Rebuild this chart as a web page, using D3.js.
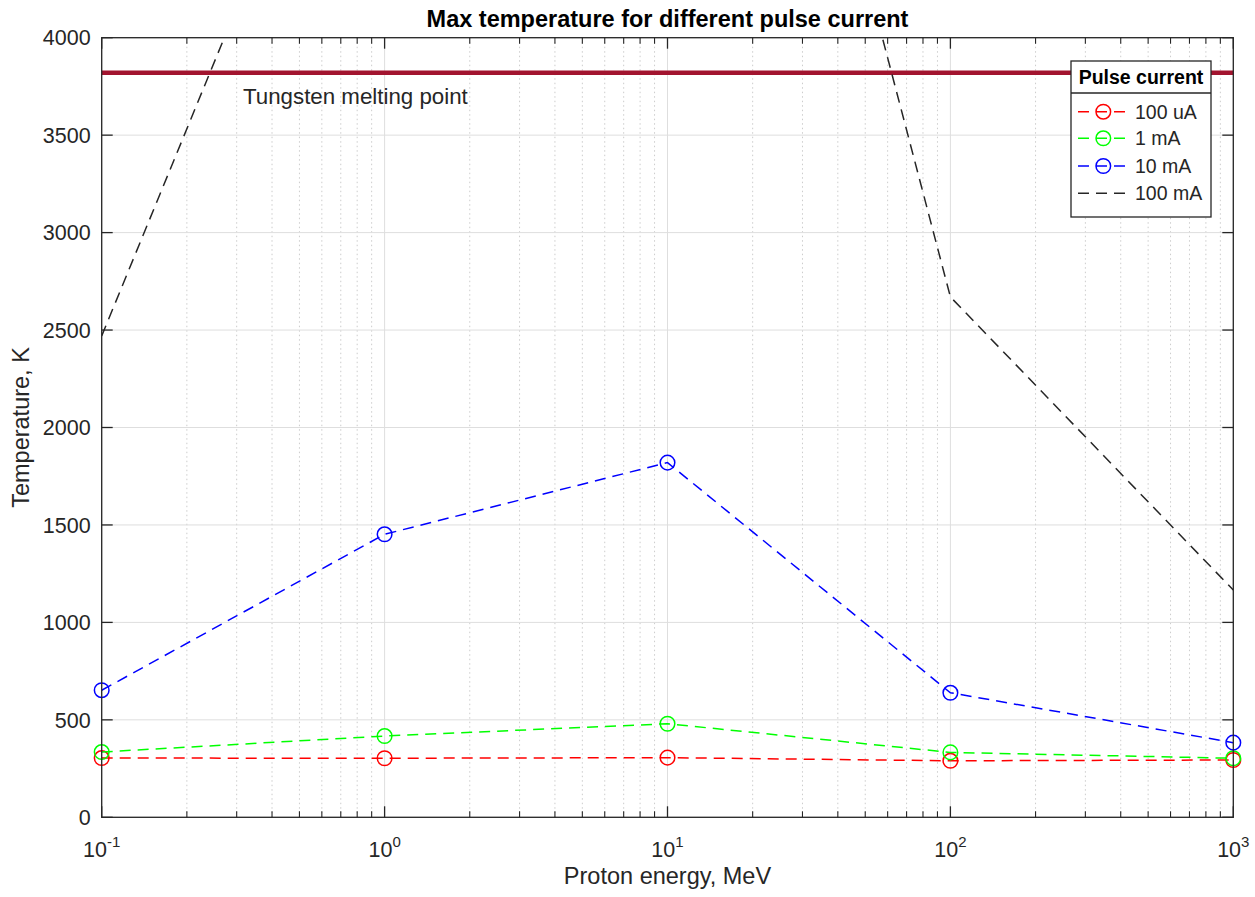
<!DOCTYPE html>
<html>
<head>
<meta charset="utf-8">
<script src="https://cdn.jsdelivr.net/npm/d3@7"></script>
<style>
  html, body { margin: 0; padding: 0; background: #fff; }
  svg { display: block; font-family: "Liberation Sans", Arial, Helvetica, sans-serif; }
</style>
</head>
<body>
<svg id="chart" width="1255" height="897"></svg>
<script>
// Proton energies (MeV)
const energies = [0.1, 1, 10, 100, 1000];

// Max temperature (K) for each pulse current
const temp100uA = [304, 303, 306, 290, 294];
const temp1mA   = [335, 417, 480, 333, 303];
const temp10mA  = [652, 1452, 1820, 639, 383];
const temp100mA = [2470, 6000, 8200, 2670, 1166];

const seriesNames  = ["100 uA", "1 mA", "10 mA", "100 mA"];
const seriesColors = ["#ff0000", "#00ff00", "#0000ff", "#262626"];
const seriesMarked = [true, true, true, false];

const meltingPoint = 3820;
const meltingLabel = "Tungsten melting point";

const xTickExps = [-1, 0, 1, 2, 3];
const yTicks = [0, 500, 1000, 1500, 2000, 2500, 3000, 3500, 4000];

const series = [temp100uA, temp1mA, temp10mA, temp100mA];

const W = 1255, H = 897;
const L = 101.7, R = 1233.3, T = 37.7, B = 817.3;
const axisColor = "#262626";

const svg = d3.select("#chart");

const x = d3.scaleLog().domain([0.1, 1000]).range([L, R]);
const y = d3.scaleLinear().domain([0, 4000]).range([B, T]);

// Minor log positions (2..9 within each decade)
const minorX = [];
for (let e = -1; e < 3; e++) {
  for (let k = 2; k <= 9; k++) minorX.push(k * Math.pow(10, e));
}
const majorX = xTickExps.map(e => Math.pow(10, e));

// Grid
const grid = svg.append("g");
grid.selectAll("line.minor").data(minorX).join("line")
  .attr("x1", d => x(d)).attr("x2", d => x(d))
  .attr("y1", T).attr("y2", B)
  .attr("stroke", "#cccccc").attr("stroke-width", 1)
  .attr("stroke-dasharray", "1.5,3");
grid.selectAll("line.mx").data(majorX).join("line")
  .attr("x1", d => x(d)).attr("x2", d => x(d))
  .attr("y1", T).attr("y2", B)
  .attr("stroke", "#dedede").attr("stroke-width", 1);
grid.selectAll("line.my").data(yTicks).join("line")
  .attr("x1", L).attr("x2", R)
  .attr("y1", d => y(d)).attr("y2", d => y(d))
  .attr("stroke", "#dedede").attr("stroke-width", 1);

// Clip region for lines that leave the axes
svg.append("clipPath").attr("id", "plotClip")
  .append("rect").attr("x", L).attr("y", T).attr("width", R - L).attr("height", B - T);

// Melting point line
svg.append("line")
  .attr("x1", L).attr("x2", R)
  .attr("y1", y(meltingPoint)).attr("y2", y(meltingPoint))
  .attr("stroke", "#A2142F").attr("stroke-width", 4.5);

svg.append("text")
  .attr("x", 243).attr("y", y(meltingPoint) + 31)
  .attr("font-size", 22.3).attr("fill", axisColor)
  .text(meltingLabel);

// Series
const line = d3.line().x((d, i) => x(energies[i])).y(d => y(d));
const dash = "11,7";

series.forEach((vals, si) => {
  svg.append("path")
    .attr("d", line(vals))
    .attr("fill", "none")
    .attr("stroke", seriesColors[si])
    .attr("stroke-width", 1.5)
    .attr("stroke-dasharray", dash)
    .attr("clip-path", "url(#plotClip)");
  if (seriesMarked[si]) {
    svg.append("g").selectAll("circle").data(vals).join("circle")
      .attr("cx", (d, i) => x(energies[i]))
      .attr("cy", d => y(d))
      .attr("r", 7.3)
      .attr("fill", "none")
      .attr("stroke", seriesColors[si])
      .attr("stroke-width", 1.5);
  }
});

// Axes box and ticks
const axes = svg.append("g");
axes.append("rect").attr("x", L).attr("y", T).attr("width", R - L).attr("height", B - T)
  .attr("fill", "none").attr("stroke", axisColor).attr("stroke-width", 1.3);

const majorLen = 11, minorLen = 6;
majorX.forEach(v => {
  axes.append("line").attr("x1", x(v)).attr("x2", x(v)).attr("y1", B).attr("y2", B - majorLen)
    .attr("stroke", axisColor).attr("stroke-width", 1.3);
  axes.append("line").attr("x1", x(v)).attr("x2", x(v)).attr("y1", T).attr("y2", T + majorLen)
    .attr("stroke", axisColor).attr("stroke-width", 1.3);
});
minorX.forEach(v => {
  axes.append("line").attr("x1", x(v)).attr("x2", x(v)).attr("y1", B).attr("y2", B - minorLen)
    .attr("stroke", axisColor).attr("stroke-width", 1.1);
  axes.append("line").attr("x1", x(v)).attr("x2", x(v)).attr("y1", T).attr("y2", T + minorLen)
    .attr("stroke", axisColor).attr("stroke-width", 1.1);
});
yTicks.forEach(v => {
  axes.append("line").attr("x1", L).attr("x2", L + majorLen).attr("y1", y(v)).attr("y2", y(v))
    .attr("stroke", axisColor).attr("stroke-width", 1.3);
  axes.append("line").attr("x1", R).attr("x2", R - majorLen).attr("y1", y(v)).attr("y2", y(v))
    .attr("stroke", axisColor).attr("stroke-width", 1.3);
});

// Tick labels
const tickFont = 21.5;
svg.append("g").selectAll("text").data(yTicks).join("text")
  .attr("x", L - 11).attr("y", d => y(d))
  .attr("dy", "0.36em")
  .attr("text-anchor", "end")
  .attr("font-size", tickFont).attr("fill", axisColor)
  .text(d => d);

const xl = svg.append("g").selectAll("text").data(xTickExps).join("text")
  .attr("x", d => x(Math.pow(10, d)))
  .attr("y", 857)
  .attr("text-anchor", "middle")
  .attr("font-size", tickFont).attr("fill", axisColor);
xl.append("tspan").text("10");
xl.append("tspan").attr("dy", -10).attr("font-size", 15).text(d => d);

// Axis labels and title
svg.append("text")
  .attr("x", (L + R) / 2).attr("y", 884)
  .attr("text-anchor", "middle").attr("font-size", 23.5).attr("fill", axisColor)
  .text("Proton energy, MeV");

svg.append("text")
  .attr("transform", `translate(29,${(T + B) / 2}) rotate(-90)`)
  .attr("text-anchor", "middle").attr("font-size", 23.5).attr("fill", axisColor)
  .text("Temperature, K");

svg.append("text")
  .attr("x", (L + R) / 2).attr("y", 27)
  .attr("text-anchor", "middle").attr("font-size", 23.5).attr("font-weight", "bold")
  .attr("fill", "#000")
  .text("Max temperature for different pulse current");

// Legend
const lg = svg.append("g");
const lgX0 = 1071, lgX1 = 1211, lgY0 = 61, lgY1 = 217, lgSep = 93;
lg.append("rect").attr("x", lgX0).attr("y", lgY0).attr("width", lgX1 - lgX0).attr("height", lgY1 - lgY0)
  .attr("fill", "#fff").attr("stroke", axisColor).attr("stroke-width", 1.3);
lg.append("line").attr("x1", lgX0).attr("x2", lgX1).attr("y1", lgSep).attr("y2", lgSep)
  .attr("stroke", axisColor).attr("stroke-width", 1.3);
lg.append("text").attr("x", (lgX0 + lgX1) / 2).attr("y", 84)
  .attr("text-anchor", "middle").attr("font-size", 19.5).attr("font-weight", "bold").attr("fill", "#000")
  .text("Pulse current");

const rowY = [111.7, 138.3, 166, 193.3];
seriesNames.forEach((name, i) => {
  const cy = rowY[i];
  lg.append("line").attr("x1", 1078).attr("x2", 1128).attr("y1", cy).attr("y2", cy)
    .attr("stroke", seriesColors[i]).attr("stroke-width", 1.5)
    .attr("stroke-dasharray", "11,7");
  if (seriesMarked[i]) {
    lg.append("circle").attr("cx", 1103.3).attr("cy", cy).attr("r", 7.3)
      .attr("fill", "none").attr("stroke", seriesColors[i]).attr("stroke-width", 1.5);
  }
  lg.append("text").attr("x", 1135).attr("y", cy).attr("dy", "0.36em")
    .attr("font-size", 19.5).attr("fill", axisColor).text(name);
});
</script>
</body>
</html>
